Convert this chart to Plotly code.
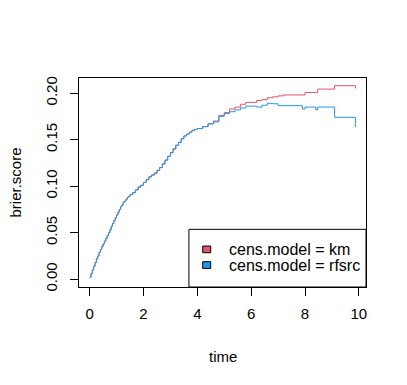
import plotly.graph_objects as go

# ---- data ----
time = [0.00, 0.05, 0.10, 0.15, 0.20, 0.25, 0.30, 0.35, 0.40, 0.45, 0.50,
        0.55, 0.60, 0.65, 0.70, 0.75, 0.80, 0.85, 0.90, 0.95, 1.00,
        1.05, 1.10, 1.15, 1.20, 1.25, 1.30, 1.35, 1.40, 1.45, 1.50,
        1.60, 1.70, 1.80, 1.90,
        2.00, 2.10, 2.20, 2.30, 2.40, 2.50, 2.60, 2.70, 2.80, 2.90,
        3.00, 3.10, 3.20, 3.30, 3.40, 3.50, 3.60, 3.70, 3.80, 3.90,
        4.00, 4.20, 4.40, 4.60, 4.80, 5.00, 5.20, 5.40, 5.60, 5.80,
        6.00, 6.20, 6.40, 6.60, 6.80, 7.00, 7.20, 7.40, 7.60, 7.80,
        7.90, 8.00, 8.28, 8.40, 8.47, 9.10, 9.87]

km = [0.002, 0.006, 0.010, 0.014, 0.018, 0.022, 0.025, 0.029, 0.032, 0.035, 0.038,
      0.041, 0.044, 0.047, 0.050, 0.053, 0.057, 0.060, 0.063, 0.066, 0.069,
      0.072, 0.075, 0.078, 0.080, 0.083, 0.084, 0.086, 0.088, 0.089, 0.091,
      0.093, 0.096, 0.099, 0.101,
      0.104, 0.107, 0.110, 0.112, 0.114, 0.117, 0.120, 0.124, 0.128, 0.132,
      0.136, 0.140, 0.144, 0.147, 0.151, 0.154, 0.156, 0.158, 0.160, 0.161,
      0.162, 0.164, 0.167, 0.170, 0.176, 0.179, 0.183, 0.185, 0.188, 0.190,
      0.190, 0.192, 0.193, 0.195, 0.196, 0.197, 0.198, 0.198, 0.198, 0.198,
      0.198, 0.2007, 0.2007, 0.2007, 0.2043, 0.2079, 0.2050]

rfsrc = [0.002, 0.006, 0.010, 0.014, 0.018, 0.022, 0.025, 0.029, 0.032, 0.035, 0.038,
         0.041, 0.044, 0.047, 0.050, 0.053, 0.057, 0.060, 0.063, 0.066, 0.069,
         0.072, 0.075, 0.078, 0.080, 0.083, 0.084, 0.086, 0.088, 0.089, 0.091,
         0.093, 0.096, 0.099, 0.101,
         0.104, 0.107, 0.110, 0.112, 0.114, 0.117, 0.120, 0.124, 0.128, 0.132,
         0.136, 0.140, 0.144, 0.147, 0.151, 0.154, 0.156, 0.158, 0.160, 0.161,
         0.162, 0.164, 0.167, 0.169, 0.175, 0.178, 0.180, 0.182, 0.184, 0.186,
         0.186, 0.185, 0.187, 0.189, 0.1885, 0.1865, 0.1865, 0.1865, 0.1865, 0.1865,
         0.1829, 0.185, 0.185, 0.182, 0.185, 0.174, 0.1636]

series_names = ["cens.model = km", "cens.model = rfsrc"]
series_colors = ["#DF536B", "#2297E6"]
x_ticks = [0, 2, 4, 6, 8, 10]
y_ticks = [0.00, 0.05, 0.10, 0.15, 0.20]

FONT = "Liberation Sans, Arial, Helvetica, sans-serif"
FS = 15

fig = go.Figure()
for name, vals, col in zip(series_names, [km, rfsrc], series_colors):
    fig.add_trace(go.Scatter(x=time, y=vals, mode="lines", name=name,
                             line=dict(color=col, width=1, shape="hv"),
                             showlegend=False))

# R-style 4% padding
xmin, xmax = min(time), max(time)
ymin, ymax = 0.0, max(km + rfsrc)
xpad = (xmax - xmin) * 0.04
ypad = (ymax - ymin) * 0.04

# page body has an 8px margin, so the figure is offset by 8px
fig.update_layout(
    width=399, height=377,
    margin=dict(l=71, r=41, t=70, b=98),
    paper_bgcolor="white", plot_bgcolor="white",
    font=dict(family=FONT, size=FS, color="black"),
    xaxis=dict(range=[xmin - xpad, xmax + xpad], tickvals=x_ticks,
               ticktext=[str(v) for v in x_ticks],
               showgrid=False, zeroline=False, showline=True, mirror=True,
               linecolor="black", linewidth=1, ticks="outside", ticklen=8,
               tickcolor="black", tickfont=dict(size=FS), ticklabelstandoff=5),
    yaxis=dict(range=[ymin - ypad, ymax + ypad], tickvals=y_ticks,
               ticktext=["%.2f" % v for v in y_ticks], tickangle=-90,
               showgrid=False, zeroline=False, showline=True, mirror=True,
               linecolor="black", linewidth=1, ticks="outside", ticklen=8,
               tickcolor="black", tickfont=dict(size=FS), ticklabelstandoff=7),
)

# axis titles
fig.add_annotation(text="time", xref="paper", yref="paper", x=0.5, y=0,
                   yshift=-69, showarrow=False, xanchor="center", yanchor="middle",
                   font=dict(size=FS))
fig.add_annotation(text="brier.score", xref="paper", yref="paper", x=0, y=0.5,
                   xshift=-64, showarrow=False, textangle=-90,
                   xanchor="center", yanchor="middle", font=dict(size=FS))

# legend box (bottom-right inside plot)
fig.add_shape(type="rect", xref="paper", yref="paper", x0=0.383, x1=1.0,
              y0=0.0, y1=0.276, line=dict(color="black", width=1),
              fillcolor="white", layer="above")
leg_y = [0.18, 0.105]
for name, col, yy in zip(series_names, series_colors, leg_y):
    fig.add_shape(type="rect", xref="paper", yref="paper",
                  x0=0.431, x1=0.459, y0=yy - 0.016, y1=yy + 0.016,
                  line=dict(color="black", width=1), fillcolor=col, layer="above")
    fig.add_annotation(text=name, xref="paper", yref="paper", x=0.515, y=yy,
                       showarrow=False, xanchor="left", yanchor="middle",
                       font=dict(size=16))

fig.write_html("out.html")
